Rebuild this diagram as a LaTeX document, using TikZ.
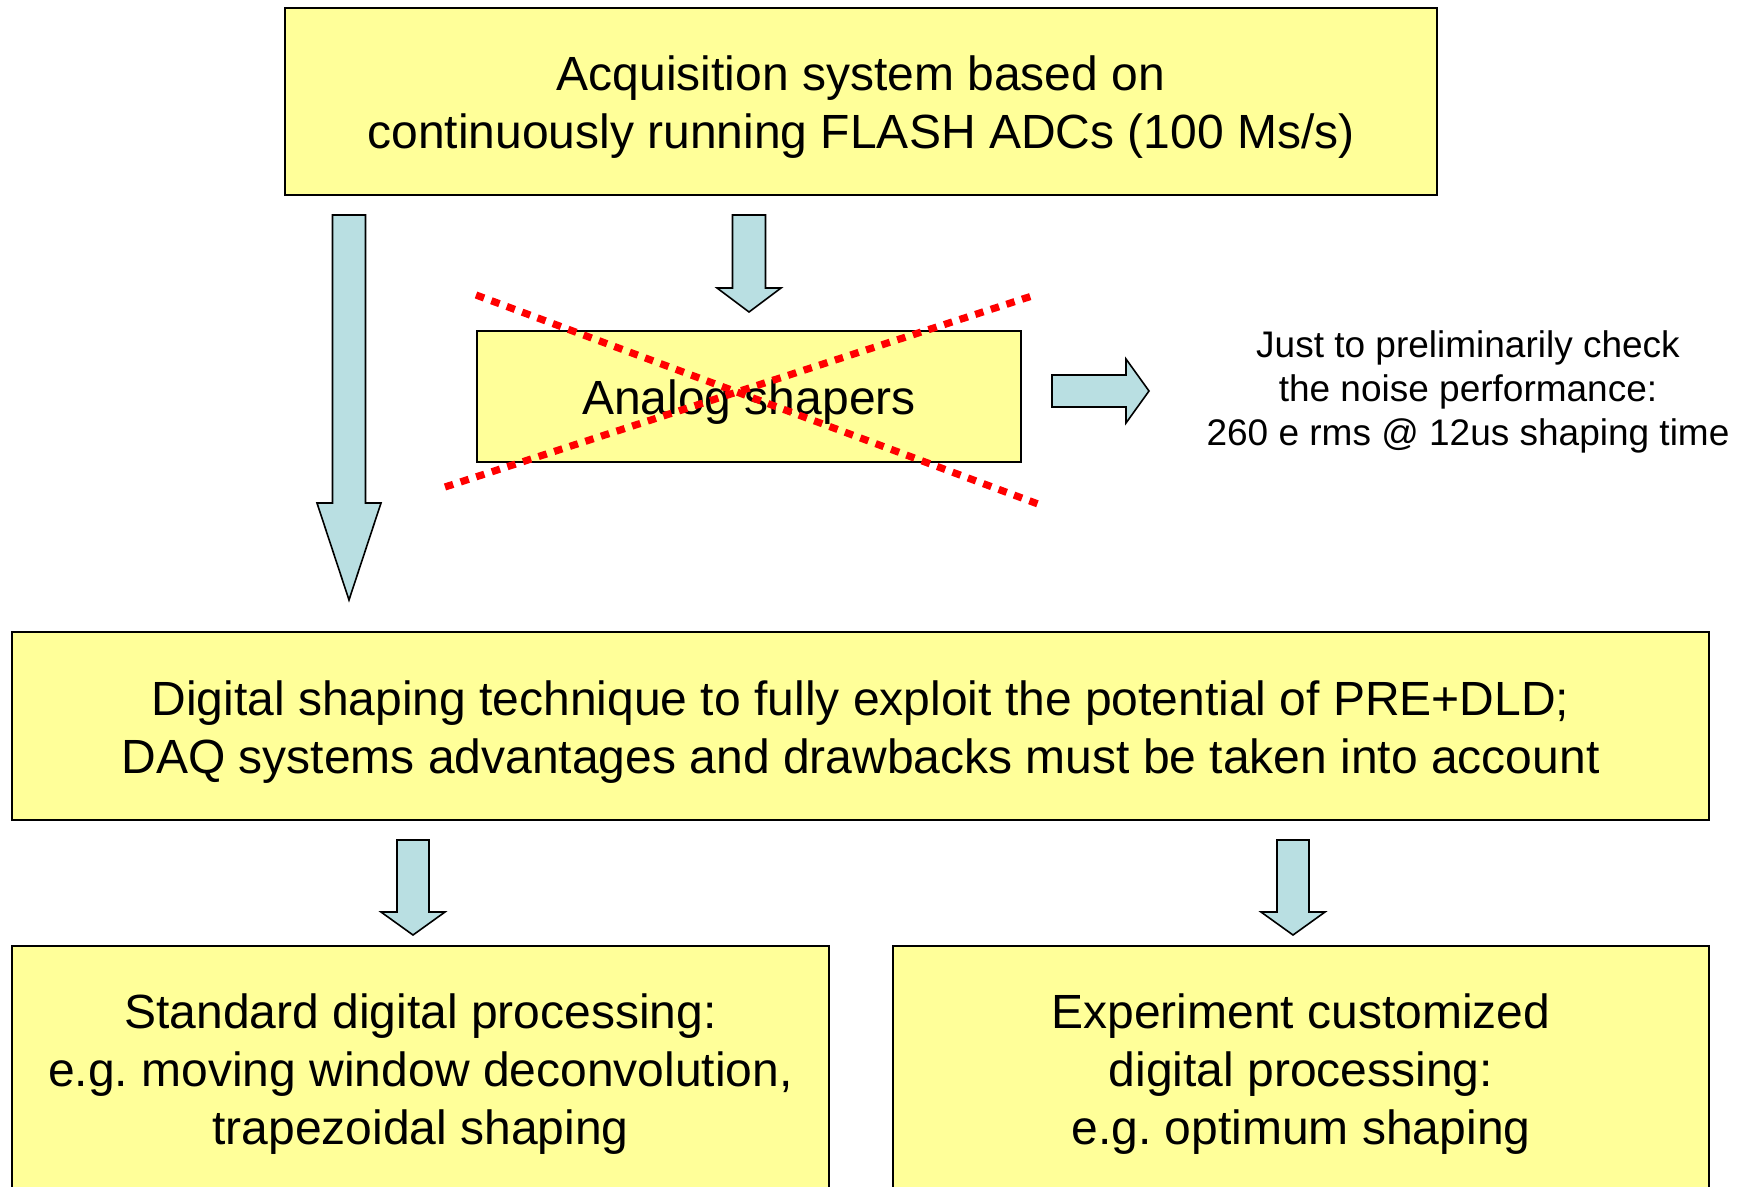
\documentclass[tikz,border=0pt]{standalone}
\usepackage{fontspec}
\setmainfont{Liberation Sans}
\frenchspacing
\definecolor{boxyellow}{HTML}{FFFF99}
\definecolor{arrowblue}{HTML}{B9DFE2}
\tikzset{
  box/.style={draw=black, line width=1pt, fill=boxyellow, inner sep=0pt},
  boxtext/.style={align=center, inner sep=0pt, font=\fontsize{24}{29}\selectfont},
  blockarrow/.style={draw=black, line width=0.8pt, fill=arrowblue, line join=miter},
  crossline/.style={draw=red, line width=3.6pt, dash pattern=on 4.3pt off 3.9pt},
  note/.style={align=center, font=\fontsize{18.5}{22}\selectfont, inner sep=0pt}
}
\newcommand{\dnarrow}[6]{%
  \draw[blockarrow] (#1-#5,#2) -- (#1+#5,#2) -- (#1+#5,#3) -- (#1+#6,#3) -- (#1,#4)
    -- (#1-#6,#3) -- (#1-#5,#3) -- cycle;}
\newcommand{\rtarrow}[6]{%
  \draw[blockarrow] (#2,#1-#5) -- (#3,#1-#5) -- (#3,#1-#6) -- (#4,#1) -- (#3,#1+#6)
    -- (#3,#1+#5) -- (#2,#1+#5) -- cycle;}
\begin{document}
\begin{tikzpicture}[x=0.5pt,y=-0.5pt]
\useasboundingbox (0,0) rectangle (1744,1187);
\clip (0,0) rectangle (1744,1187);
\fill[white] (0,0) rectangle (1744,1187);

% boxes
\node[box, minimum width=576pt, minimum height=93.5pt] (acq) at (861,101.5) {};
\node[box, minimum width=272pt, minimum height=65.5pt] (analog) at (749,396.5) {};
\node[box, minimum width=848.5pt, minimum height=94pt] (digital) at (860.5,726) {};
\node[box, minimum width=408.5pt, minimum height=124pt] (standard) at (420.5,1070) {};
\node[box, minimum width=408pt, minimum height=124pt] (custom) at (1301,1070) {};

% box texts
\node[boxtext] (acqt) at ([yshift=-2.8pt]acq.center)
  {Acquisition system based on\\continuously running FLASH ADCs (100 Ms/s)};
\node[boxtext] (analogt) at ([yshift=-2.8pt]analog.center) {Analog shapers};
\node[boxtext] (digitalt) at ([yshift=-2.8pt]digital.center)
  {Digital shaping technique to fully exploit the potential of PRE+DLD;\\DAQ systems advantages and drawbacks must be taken into account};
\node[boxtext] (standardt) at ([yshift=-2.2pt]standard.center)
  {Standard digital processing:\\e.g. moving window deconvolution,\\trapezoidal shaping};
\node[boxtext] (customt) at ([yshift=-2.2pt]custom.center)
  {Experiment customized\\digital processing:\\e.g. optimum shaping};

\node[note] (noise) at (1468,392) {Just to preliminarily check\\the noise performance:\\260 e rms @ 12us shaping time};

% block arrows
\dnarrow{349}{215}{503}{600}{16.5}{32}
\dnarrow{749}{215}{288}{312}{16.5}{32}
\dnarrow{413}{840}{912}{935}{16}{32}
\dnarrow{1293}{840}{912}{935}{16}{32}
\rtarrow{391}{1052}{1126}{1149}{16}{32}

% red cross
\coordinate (a1) at (476,295);
\coordinate (a2) at (1038,504);
\coordinate (b1) at (445,487);
\coordinate (b2) at (1032,296);
\draw[crossline] (a1) -- (a2);
\draw[crossline] (b1) -- (b2);
\end{tikzpicture}
\end{document}
